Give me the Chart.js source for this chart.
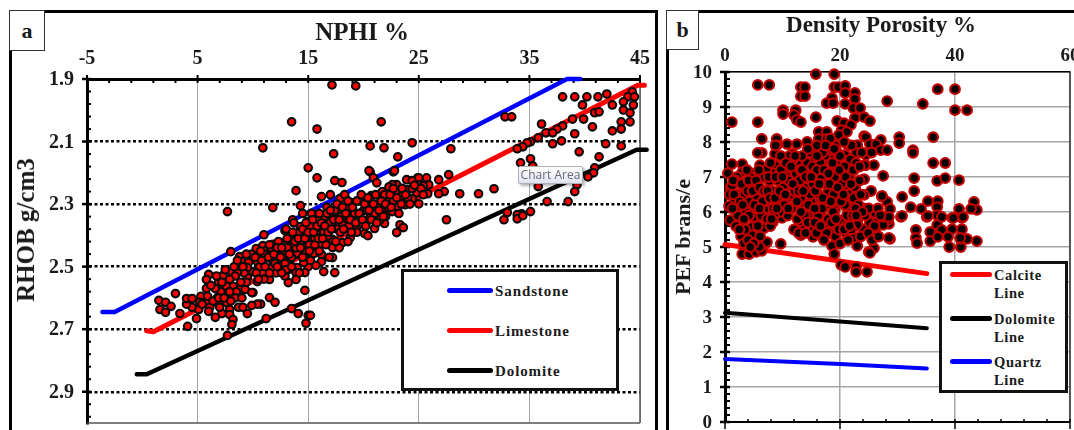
<!DOCTYPE html>
<html><head><meta charset="utf-8">
<script src="https://cdn.jsdelivr.net/npm/chart.js@4/dist/chart.umd.min.js"></script>
<style>
html,body{margin:0;padding:0;background:#fff;width:1074px;height:430px;overflow:hidden;position:relative;font-family:"Liberation Serif",serif;font-weight:bold;color:#1a1a1a}
.abs{position:absolute}
.panel{position:absolute;box-sizing:border-box;border:3px solid #000;border-bottom:none}
.tag{position:absolute;box-sizing:border-box;background:#fff;border:1.5px solid #333;display:flex;align-items:center;justify-content:center;font-size:22px}
canvas{position:absolute}
.title{position:absolute;white-space:nowrap;transform:translate(-50%,-50%)}
.rot{transform:translate(-50%,-50%) rotate(-90deg)}
.legend{position:absolute;box-sizing:border-box;background:#fff;border:3px solid #111}
.swatch{position:absolute;height:5px;border-radius:2.5px}
.ltext{position:absolute;white-space:nowrap;font-size:15px;letter-spacing:.9px;line-height:18px}
.tip{position:absolute;left:518px;top:166px;width:65px;height:18px;box-sizing:border-box;border:1px solid #aeb0b8;border-radius:2px;background:linear-gradient(#fff,#dfe3f2);box-shadow:2px 2px 3px rgba(0,0,0,.3);font:12px "Open Sans",sans-serif;color:#6a6a70;text-align:center;line-height:16px;white-space:nowrap}
</style></head><body>
<div class="panel" style="left:9px;top:10px;width:649px;height:430px"></div>
<div class="panel" style="left:666px;top:10px;width:430px;height:430px"></div>
<canvas id="cA" width="653" height="460" style="left:12px;top:13px;width:653px;height:460px"></canvas>
<canvas id="cB" width="421" height="460" style="left:669px;top:13px;width:421px;height:460px"></canvas>
<div class="tag" style="left:9px;top:10px;width:36px;height:41px">a</div>
<div class="tag" style="left:666px;top:10px;width:33px;height:40px">b</div>
<div class="title" style="left:362px;top:32px;font-size:25px">NPHI %</div>
<div class="title rot" style="left:26px;top:230px;font-size:25px">RHOB g/cm3</div>
<div class="title" style="left:881px;top:25px;font-size:23px">Density Porosity %</div>
<div class="title rot" style="left:683px;top:237px;font-size:22px">PEF brans/e</div>
<div id="legA" class="legend" style="left:401px;top:269px;width:218px;height:122px"></div>
<div id="legB" class="legend" style="left:939px;top:261px;width:129px;height:132px"></div>
<div class="tip">Chart Area</div>
<script>
// ---------- panel a: NPHI vs RHOB ----------
const nphiTicks = [-5, 5, 15, 25, 35, 45];
const rhobTicks = [1.9, 2.1, 2.3, 2.5, 2.7, 2.9];
const sandstoneNphi = [-3.6, -2.5, 38.4, 39.6];
const sandstoneRhob = [2.645, 2.645, 1.9, 1.9];
const limestoneNphi = [0.4, 1.0, 44.8, 45.4];
const limestoneRhob = [2.705, 2.708, 1.92, 1.92];
const dolomiteNphi = [-0.5, 0.4, 44.7, 45.6];
const dolomiteRhob = [2.844, 2.844, 2.126, 2.126];
const wellA = [
[17.15,1.919],[19.3,1.922],[13.5,2.037],[15.8,2.06],[10.9,2.12],[17.3,2.139],[15,2.184],[15.8,2.216],[17.4,2.225],[18.05,2.231],[13.9,2.257],[16.2,2.276],[17.9,2.282],[19.1,2.296],[14.3,2.305],[11.8,2.311],[7.7,2.324],
[21.6,2.037],[20.6,2.114],[21.85,2.12],[24.4,2.104],[23.1,2.149],[27.9,2.123],[32.8,2.021],[33.4,2.021],[38,1.957],[39.1,1.957],[40.2,1.957],[41.2,1.957],[42,1.948],[39.8,1.983],[42.5,1.983],[40.9,2.008],[41.3,2.005],[44.3,1.941],[43.9,1.957],[44.5,1.957],[43.5,1.973],[44.4,1.983],[43.5,1.999],[44.1,2.008],[38.9,2.028],[39.9,2.028],[43.3,2.037],[44.1,2.037],[40.7,2.053],[43.3,2.06],[42.5,2.066],[36.1,2.044],[38,2.05],[37.5,2.06],[36.5,2.072],[37.1,2.072],[39.1,2.075],[35.8,2.088],[35.1,2.101],[34.8,2.104],[37.9,2.098],[37.1,2.107],[41.9,2.107],[43.3,2.114],[34.4,2.117],[33.9,2.123],[39.5,2.133],[41.3,2.149],[40.9,2.184],[40.8,2.2],[40.3,2.213],[35.1,2.155],[34.2,2.168],[35.3,2.178],[39.3,2.216],[39.3,2.238],[39.1,2.26],[35.8,2.244],[36.6,2.292],[38.5,2.292],[35.1,2.324],[34.3,2.331],[33.9,2.334],[33,2.327],[32.7,2.35],[33.9,2.347],[34.4,2.337],[27.5,2.35],
[31.8,2.251],[30.4,2.267],[28.7,2.267],[27.3,2.26],[26.8,2.267],[27.7,2.206],[26.8,2.222],[25.9,2.238],[25.8,2.267],[25.7,2.216],[24.9,2.216],[23.9,2.222],[25,2.299],[24.8,2.264],[22.7,2.197],[20.6,2.197],[20.9,2.216],[21.2,2.232],
[20.5,2.193],[22.8,2.193],[24.4,2.225],[25,2.216],[25.4,2.241],[23,2.238],[22.6,2.238],[22.3,2.245],[24,2.254],[23.3,2.254],[22.6,2.264],[21.7,2.26],[20.7,2.273],[23.5,2.273],[22.8,2.273],[22.2,2.28],[21.7,2.289],[22.7,2.289],[23.75,2.302],[24.4,2.283],[23.1,2.311],[20.2,2.299],[21.7,2.315],[22.6,2.324],[20,2.321],[19.05,2.334],[18.5,2.359],[17.6,2.324],[16.9,2.334],[16.5,2.34],[17.2,2.35],[15.8,2.359],[14.9,2.356],[13.6,2.35],[14.3,2.372],[16.2,2.378],[17.2,2.372],[18.1,2.366],[20.6,2.343],[22,2.34],[23.3,2.366],[23.6,2.375],[23,2.391],[21.9,2.362],[21,2.378],[20.1,2.394],[20.4,2.401],[19.4,2.375],[18.8,2.407],[18.1,2.423],[17.2,2.413],[17.2,2.439],[17.2,2.471],[16.2,2.404],[15.3,2.407],[16.8,2.401],[16.2,2.429],[15.4,2.436],[14.7,2.42],[14.3,2.413],[13.6,2.433],[14.7,2.439],[14.1,2.461],[14.8,2.455],[15.5,2.458],[16.2,2.461],[14.8,2.477],[16.2,2.484],[15,2.5],[15.7,2.496],[14,2.503],[16.4,2.516],[17.4,2.519],[14.7,2.519],[13.9,2.519],
[11,2.398],[8,2.452],[8.8,2.468],[9,2.484],[10.3,2.442],[9.6,2.487],[10.4,2.484],[10.9,2.433],[11.3,2.445],[11.8,2.429],[12.5,2.423],[12.9,2.385],[13.5,2.404],[14.4,2.417],[14.9,2.404],[11.3,2.468],[12,2.455],[12.8,2.458],[14,2.458],[10.9,2.493],[11.8,2.481],[12.4,2.49],[13.3,2.484],[14.6,2.487],[11.7,2.503],[10.9,2.519],[10,2.516],[9.5,2.503],[9.5,2.535],[10.4,2.548],[11.5,2.541],[13.2,2.509],[13.2,2.551],[13.9,2.541],[14.7,2.576],[10,2.583],[11.5,2.599],[12,2.614],[10.7,2.62],[10.4,2.62],[9.9,2.624],[9.5,2.65],[11.2,2.666],[13.5,2.634],[14.1,2.65],[14.8,2.681],[15,2.656],
[8.1,2.516],[7.3,2.528],[6.9,2.551],[6,2.525],[5.8,2.541],[5.8,2.57],[5.3,2.595],[5.9,2.614],[6.8,2.599],[7.7,2.586],[8.2,2.563],[8.7,2.592],[9.3,2.573],[7.6,2.563],[7.6,2.614],[6.9,2.62],[7.9,2.637],[7.2,2.65],[6.6,2.662],[7.9,2.653],[8.2,2.669],[8.1,2.685],[7.7,2.72],[4.9,2.666],[5.1,2.637],[4.5,2.63],[4,2.62],[4,2.602],[4.5,2.602],[3,2.586],[1.5,2.608],[2.1,2.614],[2.6,2.627],[1.6,2.637],[2.1,2.646],[3.4,2.65],[4.1,2.691],[6.1,2.63],[6,2.643],[5.2,2.614],[5.9,2.595],[9.9,2.583],[15.2,2.656],
[9.2,2.52],[9.9,2.46],[10.6,2.5],[11,2.46],[11.6,2.44],[12,2.49],[12.3,2.42],[12.7,2.47],[13.1,2.44],[13.4,2.41],[13.9,2.44],[14.2,2.39],[14.5,2.47],[15.1,2.43],[15.2,2.37],[15.6,2.41],[15.9,2.35],[16.4,2.39],[16.6,2.43],[17,2.36],[17.4,2.32],[17.6,2.38],[18,2.34],[18.4,2.31],[18.7,2.37],[19.2,2.33],[19.6,2.29],[19.7,2.36],[20.3,2.32],[20.6,2.28],[21,2.33],[21.3,2.3],[21.5,2.35],[21.9,2.27],[22.2,2.31],[22.9,2.26],[23.4,2.3],[24,2.28],[24.4,2.25],[25.2,2.25],[12.1,2.52],[11,2.54],[13.5,2.47],[16.9,2.47],[17.8,2.44],[18.6,2.42],[19.4,2.39],[15.2,2.48],[16,2.45],[14.2,2.52],[12.9,2.53],[9.4,2.55],[8.6,2.52],[8.9,2.55],[8.5,2.58],[7.1,2.58],[6.6,2.57],[6.4,2.61],[5.4,2.62],[7,2.63],[8.7,2.63],[8.4,2.6],[7.9,2.58],[8.4,2.53],[13,2.38],[13.7,2.36],[14.5,2.33],[15.3,2.33],[16.7,2.31],[17,2.27],[18.3,2.27],
[6.2,2.56],[6.7,2.53],[7.2,2.55],[7.5,2.51],[7.9,2.54],[8.3,2.5],[8.6,2.48],[9.1,2.5],[9.4,2.46],[6.9,2.6],[7.4,2.6],[8,2.61],[9,2.6],[9.1,2.63],[10.2,2.47],[10.7,2.45],[10.3,2.52],[10.8,2.48],[11.1,2.5],[11.4,2.47],[11.5,2.43],[11.9,2.46],[12.2,2.44],[12.5,2.47],[12.6,2.44],[12.9,2.49],[13.1,2.41],[13.3,2.46],[13.6,2.39],[13.8,2.42],[12.2,2.5],[11.5,2.52],[13,2.51],[12.6,2.52],[13.5,2.5],[10.5,2.54],[14.1,2.41],[14.3,2.44],[14.5,2.38],[14.7,2.41],[14.8,2.36],[15,2.39],[15.1,2.45],[15.4,2.35],[15.5,2.39],[15.6,2.43],[15.8,2.37],[15.9,2.41],[16,2.33],[16.2,2.36],[16.3,2.41],[16.5,2.37],[16.7,2.33],[16.8,2.39],[17,2.32],[17.1,2.38],[17.3,2.35],[17.5,2.42],[17.6,2.3],[17.8,2.35],[17.9,2.39],[18.1,2.31],[18.2,2.38],[18.4,2.33],[18.6,2.29],[18.8,2.35],[18.9,2.39],[19,2.31],[19.3,2.36],[19.4,2.29],[19.6,2.33],[19.8,2.27],[19.9,2.35],[20.1,2.3],[20.2,2.37],[20.4,2.28],[20.5,2.32],[20.7,2.35],[20.9,2.3],[21.1,2.27],[21.2,2.36],[21.4,2.32],[21.6,2.29],[21.8,2.34],[22,2.3],[22.4,2.27],[22.5,2.31],[22.7,2.25],[23,2.28],[23.2,2.33],[23.5,2.25],[23.8,2.27],[24.2,2.3],[24.6,2.24],[25.4,2.27]
];

// ---------- panel b: density porosity vs PEF ----------
const dphiTicks = [0, 20, 40, 60];
const pefTicks = [0, 1, 2, 3, 4, 5, 6, 7, 8, 9, 10];
const calciteDphi = [0, 35.1];
const calcitePef = [5.07, 4.24];
const dolomiteDphiLine = [0, 20, 35.1];
const dolomitePefLine = [3.12, 2.87, 2.68];
const quartzDphi = [0, 20, 35.1];
const quartzPef = [1.8, 1.66, 1.53];
const wellB = [
[15.8,9.94],[19,9.94],[5.7,9.63],[7.7,9.63],[13.2,9.57],[13.9,9.57],[13.2,9.31],[13.9,9.31],[19,9.57],[19.7,9.57],[20.9,9.6],[20.9,9.4],[22.6,9.4],[22.6,9.23],[18.6,9.26],[17.7,9.11],[18.8,9.11],[20.9,9.09],[22.3,8.97],[23.5,8.97],[28.2,9.17],[34.4,9.09],[37,9.51],[40,9.51],[40,8.91],[42.1,8.91],[10.1,8.91],[10.1,8.8],[12.3,8.91],[12,8.77],[12.5,8.63],[13.2,8.57],[15.8,8.71],[1.2,8.57],[5.7,8.57],[19.5,8.6],[22.6,8.69],[24.2,8.71],[25.2,8.6],[20.7,8.54],[21.9,8.49],[20.3,8.34],[21.2,8.29],[16.3,8.29],[17.7,8.29],[19.8,8.2],[6.4,8.09],[9,8.09],[16.3,8.09],[17.7,8.09],[18.4,8.06],[24.2,8.17],[24.5,8.14],[27.1,8.06],[30.3,8.14],[30.3,7.97],[36.2,8.14],[9,7.91],[10.8,7.94],[12.5,7.94],[14.3,8],[17.6,7.83],[21.2,7.94],[23,7.91],[25.2,7.94],[26.3,7.94],[27.1,7.77],[28.2,7.77],[32.7,7.77],[32.7,7.69],[6.4,7.69],[5.7,7.69],[8.7,7.66],[11.7,7.66],[14.1,7.57],[15.8,7.63],[18.1,7.49],[20.9,7.63],[22.8,7.69],[24.5,7.63],[6.1,7.34],[8.7,7.34],[12.5,7.4],[14.3,7.4],[1.2,7.37],[3,7.37],[24.5,7.34],[25.9,7.34],[36.2,7.4],[38.3,7.4],[0.5,7.11],[3,7.14],[4.5,7.11],[5.7,6.94],[7.7,6.89],[10.6,7.06],[14.3,7.03],[15.8,7.23],[18.4,7.11],[22.4,7.2],[24.2,6.94],[27.5,7.03],[32.9,6.97],[36.9,6.89],[38.3,6.97],[40.7,6.91],[32.9,6.6],[43.3,6.29],[40.7,6.09],[43.8,6.06],[42.8,6.09],[35.3,6.31],[37,6.31],[36.9,6.14],[34.1,6.09],[32.3,6.14],[30.8,6.43],[27.3,6.43],[28.2,6.29],[28.7,6.09],[25.4,6.6],[24.2,6.49],[22.6,6.69],[20.9,6.69],[17.9,6.57],[16.7,6.37],[14.1,6.69],[14.1,6.37],[11.3,6.71],[11.3,6.43],[9.7,6.26],[7.7,6.09],[4.7,6.37],[1.7,6.34],[1,6.71],[0.7,6.17],[24.2,6.09],[21,6.17],[19,6.26],
[0.9,5.77],[5,5.83],[4.7,5.57],[6.8,5.54],[8.3,5.71],[9.9,5.83],[2.8,5.31],[4.7,5.34],[3.3,5.11],[7.1,5.11],[9.7,5.09],[3,4.8],[4.2,4.8],[5.4,4.86],[6.4,4.89],[13.2,5.34],[13.4,5.71],[15,5.66],[17.2,5.66],[19.7,5.77],[23,5.71],[26.1,5.51],[28.7,5.23],[28.5,5.66],[30.6,5.86],[33.2,5.49],[33.2,5.26],[33.4,5.11],[35.7,5.43],[35.7,5.17],[36.9,5.63],[37.7,5.49],[39.5,5.51],[41.2,5.51],[41.2,5.83],[39.5,5.83],[36.9,5.91],[35.1,5.86],[39,5],[41,5],[41,5.23],[42.1,5.23],[43.8,5.17],[18.6,5.03],[19,4.8],[23,5.03],[21,5.4],[24,5.51],[25.9,4.97],[25,4.86],[20.2,4.49],[20.9,4.43],[22.8,4.43],[22.8,4.29],[24.7,4.29],
[30.8,5.89],[35.3,5.89],[37.7,5.86],[39.7,5.83],[41.4,5.86],[37,5.29],[38.8,5.29],[40.9,5.26],[28.5,5.26],[26.1,5.77],[25.2,4.83],[27.3,6.46],[24,6.11],[22.6,6.71],[24.3,7.34],[23,5.63],[28.3,5.77],[22.1,6.14],[22.3,5.26],[26.1,5.97],[27.5,5.63],[27.5,5.86],[25.2,5.69],[28.5,5.86],
[19.5,7.71],[18.3,7.51],[15.7,7.2],[10.8,7.26],[11.8,7.49],[10.4,7.54],[15.7,7.49],[18.6,7.77],[17.4,7.6],[20.3,7.2],[19.5,6.97],[1.2,6.74],[4.7,6.4],[11.3,6.49],[9.6,6.23],[7.5,6.11],[5,5.86],[3,6.06],[7.3,5.14],[15.1,5.63],[16.9,5.29],[15.3,5.29],[16.7,6.03],[13.4,6.11],[20.9,6.2],[19.5,6.34],[19.1,6.06],
[2.1,7],[3.6,6.8],[4.4,7],[5.2,6.7],[2.2,6.5],[3.4,6.5],[4.3,6.3],[5.6,6.4],[6.4,6.6],[7,6.3],[2.4,6.1],[3.7,6],[5.5,6.1],[6.3,5.9],[7.3,5.8],[8.4,6.1],[8.2,6.6],[9.1,6.4],[9.2,6.9],[8.3,7.1],[7.2,7.2],[6.8,7],[9.7,7.2],[10.1,6.7],[10.3,6.2],[10.9,5.9],[11.6,6.1],[12.1,6.6],[12.3,7.1],[13,6.9],[13.2,6.4],[12.6,5.8],[13.7,6.1],[14.4,5.9],[15,6.3],[15.3,6.8],[15.2,7.3],[14.9,5.5],[16.2,5.9],[16.3,6.5],[16.8,7],[16.6,7.4],[17.5,6.8],[17.6,6.2],[17.9,5.8],[18.2,5.4],[18.8,6],[18.9,6.5],[19.1,7],[19.3,7.4],[19.2,7.9],[20,7.6],[20.3,6.8],[20.2,6.3],[20.4,5.7],[21.2,5.9],[21.5,6.5],[21.6,7],[21.8,7.5],[22,7.9],[22.4,6.4],[22.2,5.9],[22.8,7.4],[23.4,6.9],[23.2,6.2],[23.6,6.5],[18.3,8.1],[17,7.7],[16,7.9],[14.8,7.7],[13.4,7.6],[13.1,7.2],[11.2,7.6],[9.7,7.6],[8.8,7.9],[7.9,7.4],[13.8,5.5],[15.9,5.4],[17.7,5.4],[19.2,5.3],[20,5.1],[21.4,5.2],[22,5.5],[24.4,5.9],[25,6.1],[26,5.6],[26.6,6.1],[27,5.9],[1.8,6.9],[0.8,6.5],[2.9,5.7],[3.5,5.5],[1.9,5.6],[6.1,5.3],[7.9,5.6],[12,5.5],[13.9,5.9],[11.1,6.9],[9.5,6],[6.5,6.3],[4.2,5.9],[5.9,7.2],[3.8,7.2],[8.5,5.9],[12.5,6.3],[16.9,6.1],[18.2,6.8],[20.8,7.3],[19.8,5.5],[14.8,6.5],[16,7.2],[23.8,7.7],[25.5,7.7],
[1.4,6.9],[1.6,6.5],[2.6,6.3],[2.9,6.8],[3.1,6.2],[3.9,6.6],[4.1,6.9],[4.8,6.6],[5.1,6.2],[5.4,6.9],[6,6.7],[6,6.1],[6.8,6.6],[7.4,6.6],[7.6,7],[7.8,6.4],[8.1,5.8],[8.7,6.4],[8.8,7],[9,6.1],[9.5,6.6],[10,7],[10.5,6.5],[10.6,7.4],[11,6.1],[11.5,7.3],[11.8,6.8],[12.2,7.6],[12.8,6.6],[13.4,7.2],[13.6,6.6],[14,7],[14.4,7.8],[14.5,6.2],[15,7],[15.6,6.1],[15.7,6.6],[16,7.6],[16.4,6.8],[17,6.4],[17.2,7.2],[17.5,7.9],[18,7.1],[18.4,6.3],[18.7,7.4],[19,7.8],[19.6,6.7],[19.9,7.2],[20.6,6.5],[20.7,8],[21,7],[21.1,5.6],[21.9,6.8],[22.3,7.2],[22.7,6.1],[23.4,7.3],[23.9,6],[2.5,5.5],[2.2,5.9],[1.3,6.1],[3.3,5.8],[4,5.2],[5.7,5.6],[6,5],[5,5.1],[4.4,5],[12.8,5.4],[13.2,6],[14,5.4],[14.4,5.7],[15.6,5.7],[16.6,5.6],[17.2,5.2],[18.5,5.7],[19.3,5.8],[20.7,5.5],[21.7,5.6],[22.8,5.9],[23.6,5.3],[24.9,5.4],[25.6,5.2],[26.7,5.3]
];

const F = "'Liberation Serif', serif";
function makeScale(o){
  return {
    type:'linear', position:o.pos, min:o.min, max:o.max, reverse:!!o.rev,
    afterFit:sc=>{ if(o.size.h!==undefined) sc.height=o.size.h; if(o.size.w!==undefined) sc.width=o.size.w; },
    afterBuildTicks:sc=>{ sc.ticks=o.ticks.map(value=>({value})); },
    border:{display:true,color:'#000',width:o.bw,dash:o.dash||[]},
    grid:{color:o.gridColor,lineWidth:o.gridW,drawTicks:false},
    ticks:{autoSkip:false,maxRotation:0,minRotation:0,padding:o.pad,labelOffset:o.off||0,color:'#1a1a1a',
      font:{family:F,weight:'bold',size:o.fs},callback:o.fmt}
  };
}
function axisMarks(cfg){ return { id:'axisMarks', beforeDatasetsDraw(ch){
  const c=ch.ctx,a=ch.chartArea,X=ch.scales.x,Y=ch.scales.y;
  c.save();
  cfg.frame.forEach(f=>{ c.strokeStyle=f.color;c.lineWidth=f.w;c.beginPath();
    if(f.side==='bottom'){c.moveTo(a.left,a.bottom);c.lineTo(a.right,a.bottom);}
    if(f.side==='right'){c.moveTo(a.right,a.top);c.lineTo(a.right,a.bottom);}
    c.stroke(); });
  c.strokeStyle='#000';
  const step=(s,from,to)=>{const r=[];const n=Math.floor((to-from)/s+1e-6);for(let i=0;i<=n;i++)r.push(from+i*s);return r;};
  const isMajor=(v,l)=>l.some(m=>Math.abs(m-v)<1e-6);
  step(cfg.yStep,Y.min,Y.max).forEach(v=>{const p=Y.getPixelForValue(v);c.beginPath();
    if(isMajor(v,cfg.yTicks)){c.lineWidth=cfg.yW+.5;c.moveTo(a.left-cfg.yOut,p);c.lineTo(a.left+cfg.yIn,p);}
    else{c.lineWidth=cfg.yW;c.moveTo(a.left,p);c.lineTo(a.left+cfg.yIn,p);} c.stroke();});
  c.lineWidth=cfg.xW;
  const base=cfg.xAt==='top'?a.top:a.bottom, dir=cfg.xAt==='top'?1:-1;
  step(cfg.xStep,X.min,X.max).forEach(v=>{const p=X.getPixelForValue(v);c.beginPath();
    if(isMajor(v,cfg.xTicks)){c.moveTo(p,base-dir*cfg.xOut);c.lineTo(p,base+dir*cfg.xIn);}
    else{c.moveTo(p,base);c.lineTo(p,base+dir*cfg.xIn);} c.stroke();});
  if(cfg.xAt==='bottom'){c.lineWidth=2;c.beginPath();c.moveTo(a.left,base);c.lineTo(a.right,base);c.stroke();}
  c.restore();
}};}
const lineDs=(label,xs,ys,color,w)=>({label,data:xs.map((x,i)=>({x,y:ys[i]})),showLine:true,borderColor:color,backgroundColor:color,borderWidth:w,pointRadius:0,borderCapStyle:'round',borderJoinStyle:'round',clip:false,tension:0});
const pts=a=>a.map(p=>({x:p[0],y:p[1]}));

new Chart(document.getElementById('cA'),{
  type:'scatter',
  data:{datasets:[
    {label:'Well data',data:pts(wellA),pointRadius:3.8,pointBorderWidth:2.1,pointBackgroundColor:'#ff0000',pointBorderColor:'#0a0a0a',clip:false},
    lineDs('Sandstone',sandstoneNphi,sandstoneRhob,'#0000ff',4.5),
    lineDs('Limestone',limestoneNphi,limestoneRhob,'#ff0000',5),
    lineDs('Dolomite',dolomiteNphi,dolomiteRhob,'#000000',4.5)
  ]},
  options:{responsive:false,animation:false,events:[],
    layout:{padding:{left:0,top:0,right:25,bottom:50}},
    plugins:{legend:{display:false},tooltip:{enabled:false}},
    scales:{
      x:makeScale({pos:'top',min:-5,max:45,ticks:nphiTicks,size:{h:66},bw:3,gridColor:'#a6a6a6',gridW:1,pad:8,fs:20,fmt:v=>String(v)}),
      y:makeScale({pos:'left',min:1.9,max:3.0,rev:true,ticks:rhobTicks,size:{w:75},bw:3,dash:[3,2.5],gridColor:'#000',gridW:2.4,pad:13,off:1,fs:20,fmt:v=>v.toFixed(1)})
    }},
  plugins:[axisMarks({frame:[{side:'bottom',color:'#555',w:1.5},{side:'right',color:'#555',w:1.5}],yStep:.04,yTicks:rhobTicks,yOut:5,yIn:4,yW:2,xStep:2,xTicks:nphiTicks,xAt:'top',xOut:4,xIn:4,xW:2})]
});

new Chart(document.getElementById('cB'),{
  type:'scatter',
  data:{datasets:[
    {label:'Well data',data:pts(wellB),pointRadius:4.8,pointBorderWidth:2.2,pointBackgroundColor:'#000000',pointBorderColor:'#c00000',clip:false},
    lineDs('Calcite Line',calciteDphi,calcitePef,'#ff0000',5),
    lineDs('Dolomite Line',dolomiteDphiLine,dolomitePefLine,'#000000',4),
    lineDs('Quartz Line',quartzDphi,quartzPef,'#0000ff',4)
  ]},
  options:{responsive:false,animation:false,events:[],
    layout:{padding:{left:0,top:0,right:20,bottom:51}},
    plugins:{legend:{display:false},tooltip:{enabled:false}},
    scales:{
      x:makeScale({pos:'top',min:0,max:60,ticks:dphiTicks,size:{h:59},bw:1.5,gridColor:'#a6a6a6',gridW:1.5,pad:5,fs:19,fmt:v=>String(v)}),
      y:makeScale({pos:'left',min:0,max:10,ticks:pefTicks,size:{w:56},bw:3,gridColor:'#a6a6a6',gridW:1.5,pad:13,off:1.5,fs:19,fmt:v=>String(v)})
    }},
  plugins:[axisMarks({frame:[{side:'right',color:'#333',w:1.5}],yStep:.2,yTicks:pefTicks,yOut:5,yIn:5,yW:2,xStep:4,xTicks:dphiTicks,xAt:'bottom',xOut:7,xIn:3,xW:1.5})]
});

// ---------- legends ----------
const legendA=[['Sandstone','#0000ff',16],['Limestone','#ff0000',56],['Dolomite','#000000',96]];
legendA.forEach(([t,col,y])=>{const h=document.getElementById('legA');
  h.insertAdjacentHTML('beforeend',`<div class="swatch" style="left:43px;width:46px;top:${y}px;background:${col}"></div><div class="ltext" style="left:91px;top:${y-6}px">${t}</div>`);});
const legendB=[['Calcite','#ff0000',8],['Dolomite','#000000',52],['Quartz','#0000ff',95]];
legendB.forEach(([t,col,y])=>{const h=document.getElementById('legB');
  h.insertAdjacentHTML('beforeend',`<div class="swatch" style="left:8px;width:42px;top:${y}px;background:${col}"></div><div class="ltext" style="left:52px;top:${y-6}px;font-size:14.5px;letter-spacing:.6px">${t}</div><div class="ltext" style="left:52px;top:${y+12}px;font-size:14.5px;letter-spacing:.6px">Line</div>`);});
</script>
</body></html>
